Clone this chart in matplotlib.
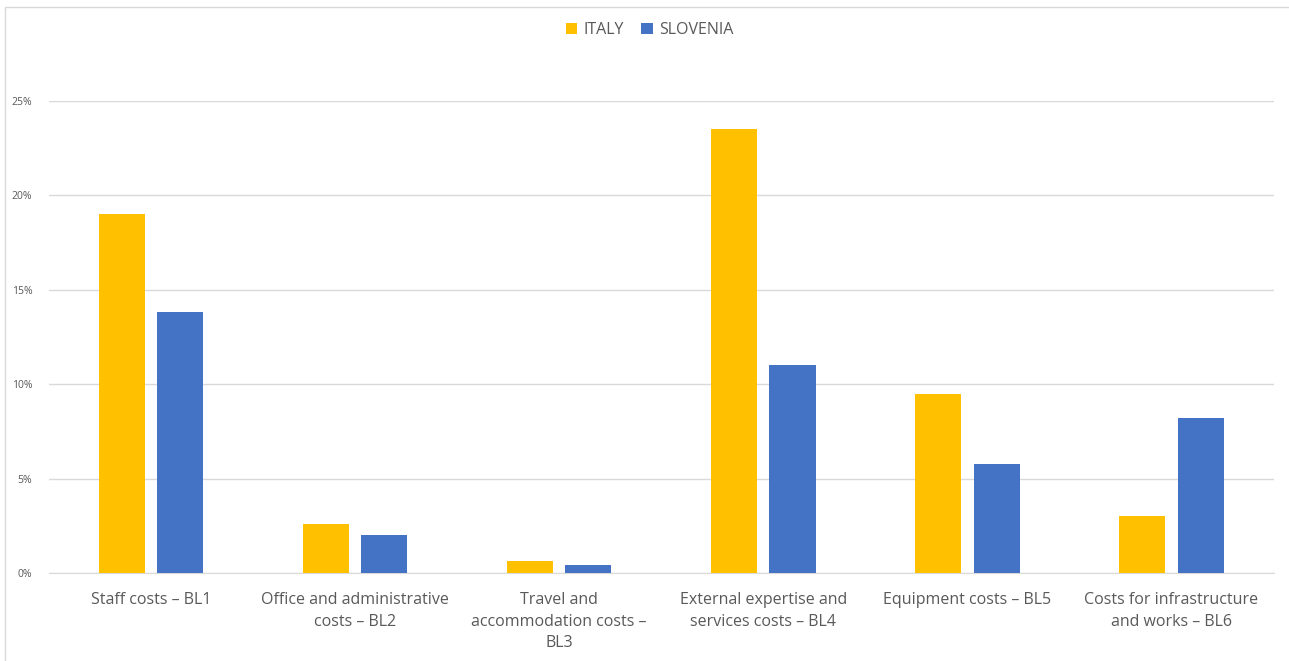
import numpy as np
import matplotlib.pyplot as plt
from matplotlib.ticker import FuncFormatter
from matplotlib.patches import Rectangle

# Budget line shares by country (percent)
categories = [
    "Staff costs \u2013 BL1",
    "Office and administrative\ncosts \u2013 BL2",
    "Travel and\naccommodation costs \u2013\nBL3",
    "External expertise and\nservices costs \u2013 BL4",
    "Equipment costs \u2013 BL5",
    "Costs for infrastructure\nand works \u2013 BL6",
]
italy = [19.0, 2.6, 0.65, 23.5, 9.5, 3.0]
slovenia = [13.8, 2.0, 0.45, 11.0, 5.8, 8.2]
yticks = [0, 5, 10, 15, 20, 25]

plt.rcParams['font.family'] = ['Open Sans', 'DejaVu Sans']

fig = plt.figure(figsize=(12.89, 6.61), dpi=100)
ax = fig.add_axes([0.0380, 0.1331, 0.9500, 0.7141])

x = np.arange(len(categories))
w = 0.226
off = 0.143
ax.bar(x - off, italy, width=w, color='#FFC000', label='ITALY', zorder=3)
ax.bar(x + off, slovenia, width=w, color='#4472C4', label='SLOVENIA', zorder=3)

ax.set_xlim(-0.5, len(categories) - 0.5)
ax.set_ylim(0, 25)
ax.set_yticks(yticks)
ax.yaxis.set_major_formatter(FuncFormatter(lambda v, p: f"{v:.0f}%"))
ax.tick_params(axis='y', length=0, labelsize=7.5, labelcolor='#595959', pad=12)
ax.set_xticks(x)
ax.set_xticklabels(categories, fontsize=11.5, color='#595959', linespacing=1.45)
ax.tick_params(axis='x', length=0, pad=14)
ax.grid(axis='y', color='#D9D9D9', linewidth=1, zorder=0)
for s in ['top', 'right', 'left']:
    ax.spines[s].set_visible(False)
ax.spines['bottom'].set_color('#D9D9D9')

fig.legend(loc='upper center', bbox_to_anchor=(0.504, 0.988), ncol=2, frameon=False,
           fontsize=11.5, handlelength=0.7, handleheight=0.7, columnspacing=1.1,
           handletextpad=0.4, labelcolor='#595959')

# light frame round the chart area
fig.patches.append(Rectangle((0.004, -0.01), 1.2, 1.0, transform=fig.transFigure,
                             fill=False, edgecolor='#D9D9D9', linewidth=1))

fig.savefig('out.png', dpi=100)
